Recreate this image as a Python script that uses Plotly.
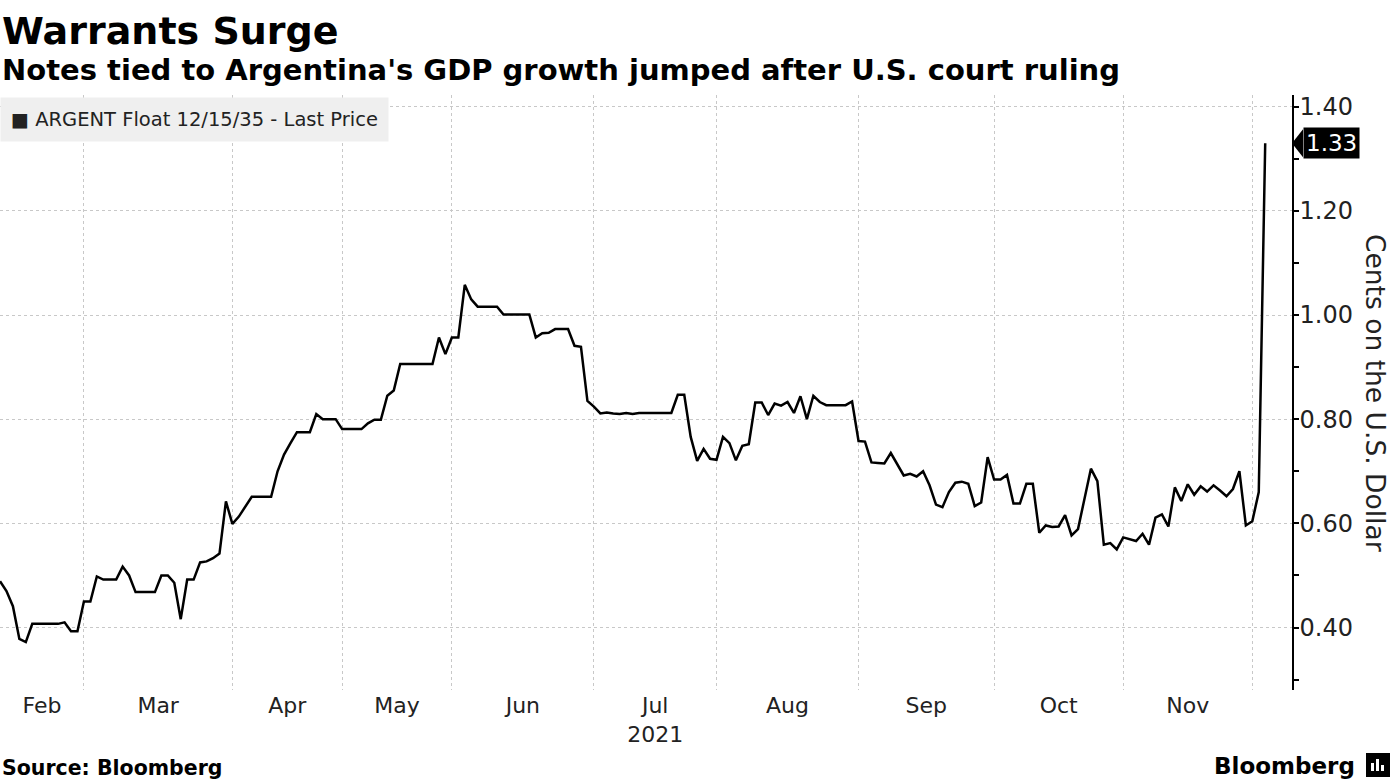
import plotly.graph_objects as go

# ---- data: one list per month (observation-based axis, like the source chart) ----
month_labels = ["Feb", "Mar", "Apr", "May", "Jun", "Jul<br>2021", "Aug", "Sep", "Oct", "Nov", ""]
feb = [0.489, 0.470, 0.441, 0.378, 0.372, 0.407, 0.407, 0.407, 0.407, 0.407, 0.410, 0.393, 0.393]
mar = [0.450, 0.450, 0.498, 0.492, 0.492, 0.492, 0.517, 0.500, 0.468, 0.468, 0.468, 0.468, 0.500,
       0.500, 0.486, 0.416, 0.492, 0.492, 0.525, 0.527, 0.533, 0.542, 0.642]
apr = [0.599, 0.613, 0.633, 0.651, 0.651, 0.651, 0.651, 0.700, 0.732, 0.754, 0.775, 0.775, 0.775,
       0.810, 0.800, 0.800, 0.800]
may = [0.781, 0.781, 0.781, 0.781, 0.792, 0.799, 0.799, 0.845, 0.855, 0.906, 0.906, 0.906, 0.906,
       0.906, 0.906, 0.957, 0.925]
jun = [0.957, 0.957, 1.058, 1.030, 1.016, 1.016, 1.016, 1.016, 1.001, 1.001, 1.001, 1.001, 1.001,
       0.957, 0.965, 0.966, 0.973, 0.973, 0.973, 0.941, 0.939, 0.835]
jul = [0.824, 0.811, 0.813, 0.811, 0.810, 0.812, 0.810, 0.812, 0.812, 0.812, 0.812, 0.812, 0.812,
       0.847, 0.847, 0.766, 0.720, 0.743, 0.724]
aug = [0.722, 0.766, 0.754, 0.721, 0.749, 0.752, 0.832, 0.832, 0.808, 0.830, 0.826, 0.833, 0.812,
       0.844, 0.800, 0.845, 0.833, 0.827, 0.827, 0.827, 0.827, 0.834]
sep = [0.758, 0.757, 0.717, 0.716, 0.715, 0.735, 0.714, 0.692, 0.695, 0.690, 0.700, 0.673, 0.636,
       0.631, 0.660, 0.678, 0.680, 0.676, 0.633, 0.640, 0.727]
oct_ = [0.684, 0.684, 0.693, 0.638, 0.638, 0.676, 0.676, 0.582, 0.596, 0.593, 0.594, 0.616, 0.577,
        0.589, 0.647, 0.705, 0.681, 0.559, 0.562, 0.550]
nov = [0.573, 0.569, 0.566, 0.580, 0.559, 0.611, 0.617, 0.594, 0.669, 0.643, 0.675, 0.655, 0.671,
       0.661, 0.673, 0.663, 0.652, 0.666, 0.700, 0.596]
dec = [0.604, 0.660, 1.330]

y_ticks = [0.40, 0.60, 0.80, 1.00, 1.20, 1.40]
series_name = "ARGENT Float 12/15/35 - Last Price"

# ---- build the series ----
months_data = [feb, mar, apr, may, jun, jul, aug, sep, oct_, nov, dec]
values = [v for m in months_data for v in m]
x = list(range(len(values)))

starts, mids = [], []
pos = 0
for m in months_data:
    starts.append(pos)
    mids.append(pos + len(m) / 2)
    pos += len(m)

FONT = "DejaVu Sans"
W, H = 1395, 784
ML, MR, MT, MB = 0, 103, 95, 94
plot_w = W - ML - MR
plot_h = H - MT - MB
x_range = [0, 200.15]
y_range = [0.28, 1.4225]

fig = go.Figure()
fig.add_trace(go.Scatter(x=x, y=values, mode="lines", name=series_name,
                         line=dict(color="black", width=2.5), hoverinfo="y"))

fig.update_layout(
    width=W, height=H, margin=dict(l=ML, r=MR, t=MT, b=MB, autoexpand=False),
    plot_bgcolor="white", paper_bgcolor="white", showlegend=False,
    font=dict(family=FONT, color="#222"),
)

fig.update_xaxes(
    range=x_range, tickmode="array", tickvals=mids[:-1], ticktext=month_labels[:-1],
    showgrid=False, zeroline=False, showline=False, ticks="",
    tickfont=dict(size=22, color="#222", family=FONT),
    minor=dict(tickmode="array", tickvals=starts[1:], showgrid=True, gridcolor="#c8c8c8",
               griddash="dot", gridwidth=1, ticks=""),
)

fig.update_yaxes(
    side="right", range=y_range, tickmode="array", tickvals=y_ticks,
    ticktext=[f"{v:.2f}" for v in y_ticks],
    showgrid=True, gridcolor="#c8c8c8", griddash="dot", gridwidth=1,
    zeroline=False, showline=True, linecolor="black", linewidth=1.5,
    ticks="outside", ticklen=5, tickcolor="black", tickwidth=1.5,
    ticklabelstandoff=-4,
    tickfont=dict(size=24, color="#222", family=FONT),
    minor=dict(dtick=0.1, tick0=0, ticks="outside", ticklen=5, tickcolor="black", showgrid=False),
)

def py(pix):
    return (H - MB - pix) / plot_h

ann = []
ann.append(dict(text="<b>Warrants Surge</b>", x=0, xref="paper", xanchor="left",
                y=py(31), yref="paper", yanchor="middle", showarrow=False,
                font=dict(size=38, color="black", family=FONT)))
ann.append(dict(text="<b>Notes tied to Argentina's GDP growth jumped after U.S. court ruling</b>",
                x=0, xref="paper", xanchor="left", y=py(70), yref="paper", yanchor="middle",
                showarrow=False, font=dict(size=29, color="black", family=FONT)))
ann.append(dict(text="<span style='font-size:19px'>■</span> " + series_name,
                x=0, xref="paper", xanchor="left", y=py(97), yref="paper", yanchor="top",
                showarrow=False, bgcolor="#efefef", borderpad=10,
                font=dict(size=19.5, color="#222", family=FONT)))
ann.append(dict(text="<b>Source: Bloomberg</b>", x=0, xref="paper", xanchor="left",
                y=py(768), yref="paper", yanchor="middle", showarrow=False,
                font=dict(size=20.5, color="black", family=FONT)))
ann.append(dict(text="<b>Bloomberg</b>", x=1357 / plot_w, xref="paper", xanchor="right",
                y=py(766), yref="paper", yanchor="middle", showarrow=False,
                font=dict(size=23, color="black", family=FONT)))
ann.append(dict(text="Cents on the U.S. Dollar", textangle=90, x=1376 / plot_w, xref="paper",
                xanchor="center", y=py(393), yref="paper", yanchor="middle", showarrow=False,
                font=dict(size=26.5, color="#222", family=FONT)))

last = values[-1]
ann.append(dict(text=f"{last:.2f}", x=1.0, xref="paper", xanchor="left", xshift=11,
                y=last, yref="y", yanchor="middle", showarrow=False, bgcolor="black",
                borderpad=2, font=dict(size=23, color="white", family=FONT)))
fig.update_layout(annotations=ann)

# pointer triangle of the last-value tag
y_per_px = (y_range[1] - y_range[0]) / plot_h
tri_w = 11 / plot_w
tri_h = 14 * y_per_px
fig.add_shape(type="path", xref="paper", yref="y",
              path=f"M 1.0,{last} L {1.0 + tri_w},{last + tri_h} L {1.0 + tri_w},{last - tri_h} Z",
              fillcolor="black", line=dict(width=0))

# small Bloomberg logo icon
fig.add_shape(type="rect", xref="paper", yref="paper",
              x0=1366 / plot_w, x1=1390 / plot_w, y0=py(777), y1=py(753),
              fillcolor="black", line=dict(width=0))
for i, hgt in enumerate([8, 12, 6]):
    bx = 1371 + i * 5
    fig.add_shape(type="rect", xref="paper", yref="paper",
                  x0=bx / plot_w, x1=(bx + 3) / plot_w, y0=py(771), y1=py(771 - hgt),
                  fillcolor="white", line=dict(width=0))

fig.write_html("out.html", config={"displayModeBar": False},
               post_script="document.body.style.margin='0px';")
